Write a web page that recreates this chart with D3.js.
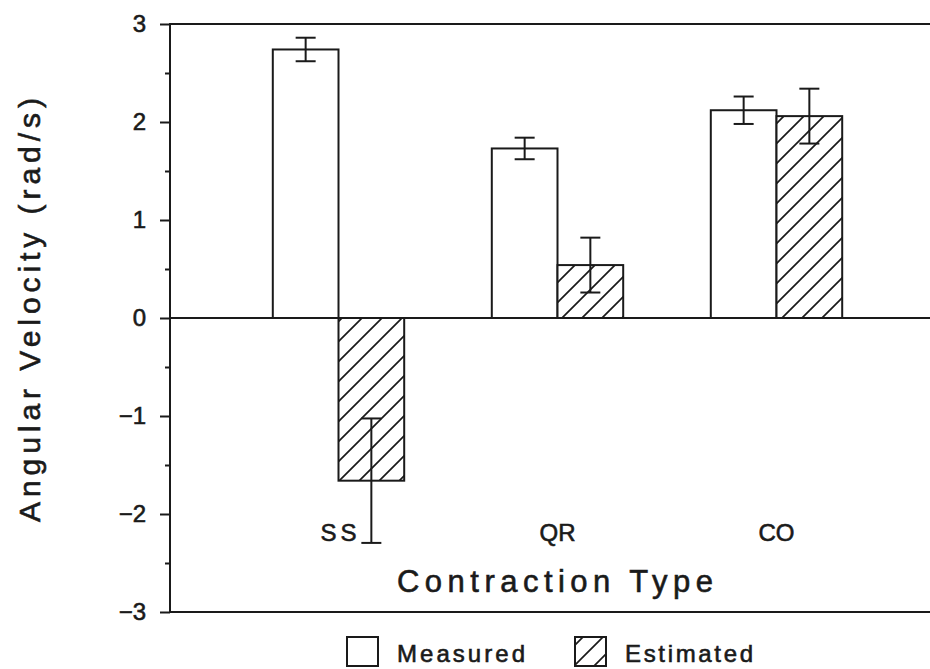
<!DOCTYPE html>
<html>
<head>
<meta charset="utf-8">
<script src="https://cdn.jsdelivr.net/npm/d3@7"></script>
<style>
  html, body { margin: 0; padding: 0; background: #ffffff; }
  svg { display: block; }
  text {
    font-family: "Liberation Sans", Arial, Helvetica, sans-serif;
    fill: #1a1a1a; stroke: #1a1a1a; stroke-width: 0.6px;
  }
</style>
</head>
<body>
<svg id="chart" width="930" height="669"></svg>
<script>
// Contraction types and the two series (mean ± error), angular velocity in rad/s
const categories = ["SS", "QR", "CO"];
const seriesNames = ["Measured", "Estimated"];
const measured = [2.74, 1.73, 2.12];
const measuredErr = [0.12, 0.11, 0.14];
const estimated = [-1.66, 0.54, 2.06];
const estimatedErr = [0.635, 0.28, 0.28];
const majorTicks = [-3, -2, -1, 0, 1, 2, 3];
const minorTicks = [-2.5, -1.5, -0.5, 0.5, 1.5, 2.5];

const svg = d3.select("#chart");
const W = 930;
const axisX = 170;
const ink = "#1a1a1a";

const y = d3.scaleLinear().domain([-3, 3]).range([612, 24]);
const x = d3.scaleBand().domain(categories).range([229, 886])
  .paddingInner(0.4).paddingOuter(0.2);
const xs = d3.scaleBand().domain(seriesNames).range([0, x.bandwidth()]);

// Diagonal hatch for the estimated bars
const defs = svg.append("defs");
const hatch = defs.append("pattern")
  .attr("id", "hatch")
  .attr("patternUnits", "userSpaceOnUse")
  .attr("width", 20).attr("height", 20);
hatch.append("rect").attr("width", 20).attr("height", 20).attr("fill", "#fff");
hatch.append("path")
  .attr("d", "M-5,5 L5,-5 M0,20 L20,0 M15,25 L25,15")
  .attr("stroke", ink).attr("stroke-width", 1.7);

// Frame lines: top, zero, bottom
[3, 0, -3].forEach(v => {
  svg.append("line")
    .attr("x1", axisX).attr("x2", W)
    .attr("y1", y(v)).attr("y2", y(v))
    .attr("stroke", ink).attr("stroke-width", 2);
});

// Left axis: major ticks with labels, minor ticks without
const gMajor = svg.append("g").attr("transform", `translate(${axisX},0)`)
  .call(d3.axisLeft(y).tickValues(majorTicks).tickSize(10).tickPadding(14)
    .tickFormat(d3.format("d")));
const gMinor = svg.append("g").attr("transform", `translate(${axisX},0)`)
  .call(d3.axisLeft(y).tickValues(minorTicks).tickSize(5).tickFormat(""));
[gMajor, gMinor].forEach(g => {
  g.select(".domain").remove();
  g.selectAll(".tick line").attr("stroke", ink).attr("stroke-width", 2);
});
gMajor.selectAll(".tick text")
  .attr("font-size", 24).attr("fill", ink)
  .attr("font-family", "\"Liberation Sans\", Arial, sans-serif");
svg.append("line")
  .attr("x1", axisX).attr("x2", axisX)
  .attr("y1", y(3) - 1).attr("y2", y(-3) + 1)
  .attr("stroke", ink).attr("stroke-width", 2);

// Bars
const rows = [];
categories.forEach((c, i) => {
  rows.push({ cat: c, series: "Measured", v: measured[i], e: measuredErr[i] });
  rows.push({ cat: c, series: "Estimated", v: estimated[i], e: estimatedErr[i] });
});

svg.append("g").selectAll("rect").data(rows).join("rect")
  .attr("x", d => x(d.cat) + xs(d.series))
  .attr("width", xs.bandwidth())
  .attr("y", d => y(Math.max(0, d.v)))
  .attr("height", d => Math.abs(y(d.v) - y(0)))
  .attr("fill", d => d.series === "Measured" ? "#fff" : "url(#hatch)")
  .attr("stroke", ink).attr("stroke-width", 2);

// Error bars
const capW = 20;
const eb = svg.append("g").selectAll("g").data(rows).join("g")
  .attr("stroke", ink).attr("stroke-width", 2);
eb.append("line")
  .attr("x1", d => x(d.cat) + xs(d.series) + xs.bandwidth() / 2)
  .attr("x2", d => x(d.cat) + xs(d.series) + xs.bandwidth() / 2)
  .attr("y1", d => y(d.v + d.e)).attr("y2", d => y(d.v - d.e));
[1, -1].forEach(s => {
  eb.append("line")
    .attr("x1", d => x(d.cat) + xs(d.series) + xs.bandwidth() / 2 - capW / 2)
    .attr("x2", d => x(d.cat) + xs(d.series) + xs.bandwidth() / 2 + capW / 2)
    .attr("y1", d => y(d.v + s * d.e)).attr("y2", d => y(d.v + s * d.e));
});

// Category labels inside the plot
svg.append("g").selectAll("text").data(categories).join("text")
  .attr("x", d => x(d) + x.bandwidth() / 2)
  .attr("y", 541)
  .attr("text-anchor", "middle")
  .attr("font-size", 24)
  .attr("textLength", 36)
  .attr("lengthAdjust", "spacing")
  .text(d => d);

// Axis titles
svg.append("text")
  .attr("x", 555).attr("y", 592)
  .attr("text-anchor", "middle")
  .attr("font-size", 31)
  .attr("textLength", 316).attr("lengthAdjust", "spacing")
  .text("Contraction Type");

svg.append("text")
  .attr("transform", "translate(40,310) rotate(-90)")
  .attr("text-anchor", "middle")
  .attr("font-size", 30)
  .attr("textLength", 424).attr("lengthAdjust", "spacing")
  .text("Angular Velocity (rad/s)");

// Legend
const legend = svg.append("g");
const legendX = [347, 575];
seriesNames.forEach((name, i) => {
  legend.append("rect")
    .attr("x", legendX[i]).attr("y", 637)
    .attr("width", 31).attr("height", 29)
    .attr("fill", i === 0 ? "#fff" : "url(#hatch)")
    .attr("stroke", ink).attr("stroke-width", 2);
  legend.append("text")
    .attr("x", legendX[i] + 50).attr("y", 662)
    .attr("font-size", 24)
    .attr("textLength", 128).attr("lengthAdjust", "spacing")
    .text(name);
});
</script>
</body>
</html>
